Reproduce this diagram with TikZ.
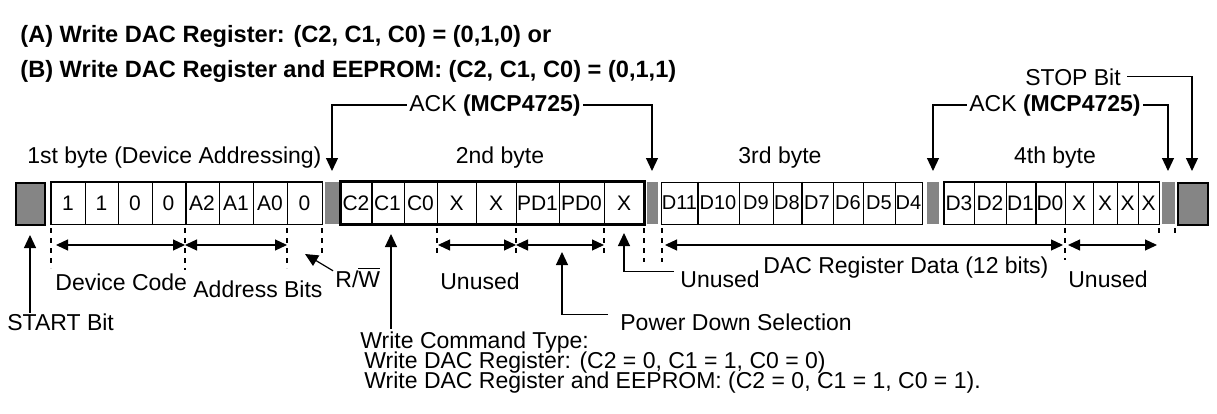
\documentclass[tikz,border=0pt]{standalone}
\usepackage{fontspec}
\setmainfont{Liberation Sans}
\usetikzlibrary{arrows.meta,calc}
\definecolor{graybit}{HTML}{858585}
\begin{document}
\begin{tikzpicture}[x=0.5pt,y=-0.5pt,
  every node/.style={inner sep=0pt},
  txt/.style={font=\fontsize{11.5}{13}\selectfont, anchor=base west},
  ttl/.style={font=\bfseries\fontsize{11.8}{13}\selectfont, anchor=base west},
  cell/.style={draw, line width=0.5pt, minimum height=21pt, font=\fontsize{10.5}{12}\selectfont},
  dcell/.style={cell, font=\fontsize{10}{12}\selectfont},
  gbox/.style={fill=graybit, minimum height=21pt, anchor=north west},
  arr/.style={line width=0.6pt, -{Triangle[length=6.5pt,width=6pt]}},
  darr/.style={line width=0.6pt, {Triangle[length=6pt,width=5.5pt]}-{Triangle[length=6pt,width=5.5pt]}},
  tick/.style={line width=0.6pt, dash pattern=on 2.5pt off 2.5pt},
]
\useasboundingbox (0,0) rectangle (1217,413);

% titles
\node[ttl] (tA) at (20,42) {(A) Write DAC Register: (C2, C1, C0) = (0,1,0) or};
\node[ttl] (tB) at (20,77) {(B) Write DAC Register and EEPROM: (C2, C1, C0) = (0,1,1)};

% gray bits
\node[gbox, draw, line width=0.8pt, minimum width=14.5pt] (startbox) at (15,182) {};
\node[gbox, minimum width=7pt] (ack1) at (325,182) {};
\node[gbox, minimum width=5.5pt] (ack2) at (646.5,182) {};
\node[gbox, minimum width=6pt] (ack3) at (927,182) {};
\node[gbox, minimum width=6.5pt] (ack4) at (1162,182) {};
\node[gbox, draw, line width=0.8pt, minimum width=15pt] (stopbox) at (1177,182) {};

% byte 1
\foreach \a/\b/\t [count=\i] in {51/85/1,85/118/1,118/152/0,152/185/0,185/219/A2,219/253/A1,253/287/A0,287/322/0}{
  \pgfmathsetmacro\w{(\b-\a)*0.5}
  \node[cell, minimum width=\w pt] (ba\i) at ({(\a+\b)/2},203) {\t};
}
\draw[line width=0.8pt] (ba1.north west) rectangle (ba8.south east);
\draw[line width=1pt] (ba4.north east) -- (ba4.south east);

% byte 2
\foreach \a/\b/\t [count=\i] in {341/371/C2,371/404/C1,404/437/C0,437/476/X,476/516/X,516/559/PD1,559/604/PD0,604/644/X}{
  \pgfmathsetmacro\w{(\b-\a)*0.5}
  \node[cell, minimum width=\w pt] (bb\i) at ({(\a+\b)/2},203) {\t};
}
\draw[line width=1.1pt] (bb1.north west) rectangle (bb8.south east);
\draw[line width=1pt] (bb1.north east) -- (bb1.south east);

% byte 3
\foreach \a/\b/\t [count=\i] in {662/697/D11,697/739/D10,739/773/D9,773/801/D8,801/833/D7,833/863/D6,863/895/D5,895/922/D4}{
  \pgfmathsetmacro\w{(\b-\a)*0.5}
  \node[dcell, minimum width=\w pt] (bc\i) at ({(\a+\b)/2},203) {\t};
}
\draw[line width=1pt] (bc1.north east) -- (bc1.south east);
\draw[line width=1pt] (bc4.north east) -- (bc4.south east);

% byte 4
\foreach \a/\b/\t [count=\i] in {944/974/D3,974/1006/D2,1006/1035/D1,1035/1065/D0,1065/1093/X,1093/1117/X,1117/1138/X,1138/1159/X}{
  \pgfmathsetmacro\w{(\b-\a)*0.5}
  \node[cell, minimum width=\w pt] (bd\i) at ({(\a+\b)/2},203) {\t};
}
\draw[line width=0.9pt] (bd1.north west) rectangle (bd8.south east);
\draw[line width=1pt] (bd3.north east) -- (bd3.south east);

% byte labels
\node[txt] (l1) at (27,163) {1st byte (Device Addressing)};
\node[txt, anchor=base] (l2) at (500,163) {2nd byte};
\node[txt, anchor=base] (l3) at (780,163) {3rd byte};
\node[txt, anchor=base] (l4) at (1055,163) {4th byte};

% ACK / STOP callouts
\coordinate (tp1) at (332,171);
\coordinate (tp2) at (652,171);
\coordinate (tp3) at (933,171);
\coordinate (tp4) at (1168,171);
\coordinate (tp5) at (1192,171);
\node[txt, anchor=base] (ackA) at (495,111) {ACK \textbf{(MCP4725)}};
\node[txt, anchor=base] (ackB) at (1055,111) {ACK \textbf{(MCP4725)}};
\node[txt, anchor=base] (stopl) at (1073,85) {STOP Bit};
\draw[arr] ($(ackA.west)+(-2,0)$) -| (tp1);
\draw[arr] ($(ackA.east)+(2,0)$) -| (tp2);
\draw[arr] ($(ackB.west)+(-2,0)$) -| (tp3);
\draw[arr] ($(ackB.east)+(2,0)$) -| (tp4);
\draw[arr] ($(stopl.east)+(6,0)$) -| (tp5);

% dashed ticks
\foreach \x/\l in {51/40,185/42,287/40,322/27,437/25,516/25,604/25,644/34,662/34,1065/32,1159/8,1175/8}{
  \draw[tick] (\x,228) -- ++(0,\l);
}

% span arrows
\coordinate (dcL) at (56,245);
\coordinate (dcR) at (185,245);
\coordinate (abR) at (287,245);
\coordinate (unL) at (438,245);
\coordinate (unR) at (516,245);
\coordinate (pdR) at (604,245);
\coordinate (daL) at (665,245);
\coordinate (daR) at (1063,245);
\coordinate (u4L) at (1068,245);
\coordinate (u4R) at (1157,245);
\draw[darr] (dcL) -- (dcR);
\draw[darr] (dcR) -- (abR);
\draw[darr] (unL) -- (unR);
\draw[darr] (unR) -- (pdR);
\draw[darr] (daL) -- (daR);
\draw[darr] (u4L) -- (u4R);

% lower labels
\node[txt] (dc) at (55,290) {Device Code};
\node[txt] (ab) at (193,297) {Address Bits};
\node[txt] (rw) at (335,287) {R/$\overline{\mbox{W}}$};
\node[txt, anchor=base] (un1) at (480,289) {Unused};
\node[txt] (un2) at (680,287) {Unused};
\node[txt] (dacd) at (763,273) {DAC Register Data (12 bits)};
\node[txt, anchor=base] (un4) at (1108,287) {Unused};
\node[txt] (startl) at (7,330) {START Bit};
\node[txt] (pds) at (620,330) {Power Down Selection};
\node[txt] (wc1) at (360,348) {Write Command Type:};
\node[txt] (wc2) at (364,368) {Write DAC Register: (C2 = 0, C1 = 1, C0 = 0)};
\node[txt] (wc3) at (364,388) {Write DAC Register and EEPROM: (C2 = 0, C1 = 1, C0 = 1).};

% pointer arrows
\coordinate (rwtip) at (305,254);
\coordinate (sttip) at (30,235);
\coordinate (c1tip) at (391,234);
\coordinate (xtip) at (624,233);
\coordinate (pdtip) at (562,252);
\draw[arr] ($(rw.north west)+(-2,4)$) -- (rwtip);
\draw[arr] (startl.north -| sttip) -- (sttip);
\draw[arr] ($(wc1.north -| c1tip)+(0,-2)$) -- (c1tip);
\draw[arr] ($(un2.west)+(-6,-7)$) -| (xtip);
\draw[arr] ($(pds.west)+(-12,-7)$) -| (pdtip);
\end{tikzpicture}
\end{document}
